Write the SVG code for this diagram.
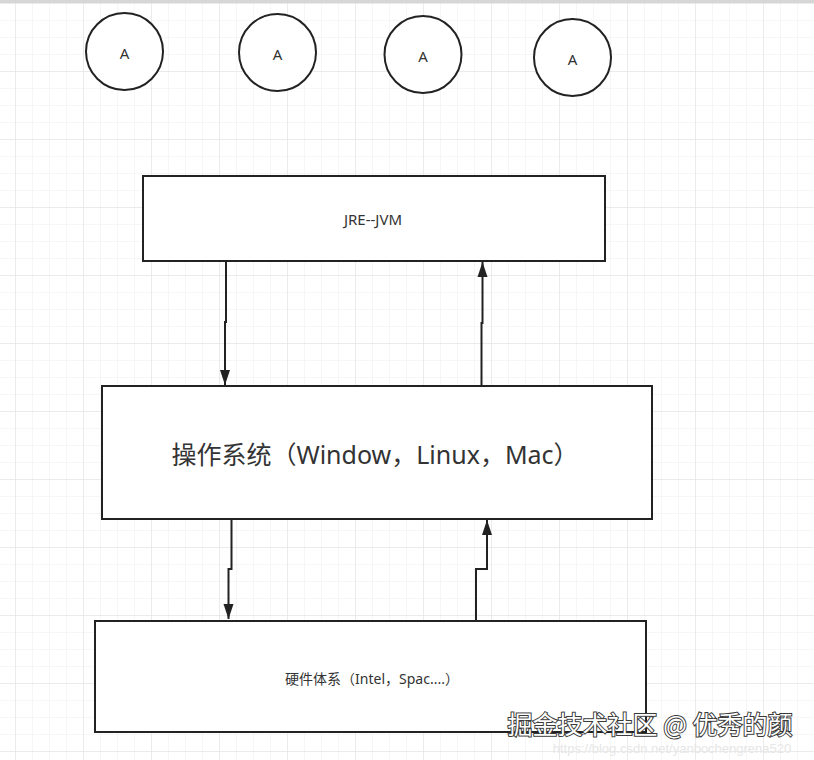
<svg xmlns="http://www.w3.org/2000/svg" width="814" height="760" viewBox="0 0 814 760">
  <defs>
    <pattern id="minor" x="15" y="3" width="17" height="17" patternUnits="userSpaceOnUse">
      <path d="M0,0 V17 M0,0 H17" fill="none" stroke="#eeeeee" stroke-width="1"/>
    </pattern>
    <pattern id="major" x="15" y="3" width="68" height="68" patternUnits="userSpaceOnUse">
      <path d="M0,0 V68 M0,0 H68" fill="none" stroke="#e0e0e0" stroke-width="1"/>
    </pattern>
    <marker id="arrow" markerUnits="userSpaceOnUse" markerWidth="16" markerHeight="12" viewBox="0 0 16 12" refX="15" refY="6" orient="auto">
      <path d="M0,1 L15,6 L0,11 Z" fill="#222"/>
    </marker>
    <style>
      .node { fill: #fff; stroke: #222; stroke-width: 2; }
      .lbl { font-family: "Noto Sans", "Noto Sans CJK SC", sans-serif; fill: #333; text-anchor: middle; dominant-baseline: central; }
      .edge { fill: none; stroke: #222; stroke-width: 2; marker-end: url(#arrow); }
    </style>
  </defs>

  <rect width="814" height="760" fill="#fff"/>
  <rect width="814" height="760" fill="url(#minor)"/>
  <rect width="814" height="760" fill="url(#major)"/>
  <rect x="0" y="0" width="814" height="3" fill="#d6d6d6"/>

  <g id="circle1">
    <circle class="node" cx="124.5" cy="51.5" r="38.5"/>
    <text class="lbl" x="124.5" y="52.5" font-size="15">A</text>
  </g>
  <g id="circle2">
    <circle class="node" cx="277.5" cy="52.5" r="38.5"/>
    <text class="lbl" x="277.5" y="53.5" font-size="15">A</text>
  </g>
  <g id="circle3">
    <circle class="node" cx="423" cy="54.5" r="38.5"/>
    <text class="lbl" x="423" y="55.5" font-size="15">A</text>
  </g>
  <g id="circle4">
    <circle class="node" cx="572.5" cy="57.5" r="38.5"/>
    <text class="lbl" x="572.5" y="58.5" font-size="15">A</text>
  </g>

  <g id="jre">
    <rect class="node" x="143" y="176" width="462" height="85"/>
    <text class="lbl" x="373" y="219" font-size="15">JRE--JVM</text>
  </g>

  <g id="os">
    <rect class="node" x="102" y="386" width="550" height="133"/>
    <text class="lbl" x="375" y="454" font-size="25" font-family="Noto Sans CJK SC, sans-serif">操作系统（Window，Linux，Mac）</text>
  </g>

  <g id="hardware">
    <rect class="node" x="95" y="621" width="551" height="111"/>
    <text class="lbl" x="372" y="678" font-size="14" font-family="Noto Sans CJK SC, sans-serif">硬件体系（Intel，Spac....）</text>
  </g>

  <g id="connectors">
    <path class="edge" d="M226,261 V322 H225 V385"/>
    <path class="edge" d="M481.5,386 V323 H482.5 V262"/>
    <path class="edge" d="M231.5,519 V569 H228.5 V619"/>
    <path class="edge" d="M476,621 V569 H487 V520"/>
  </g>

  <g id="watermark">
    <text x="672" y="748" font-size="13" font-family="Liberation Sans, sans-serif" fill="#e6e6e6" text-anchor="middle" dominant-baseline="central">https://blog.csdn.net/yanbochengrena520</text>
    <text x="650" y="723" font-size="25" font-family="Noto Sans CJK SC, sans-serif" fill="#fff" stroke="#3a3a3a" stroke-width="2" paint-order="stroke" text-anchor="middle" dominant-baseline="central">掘金技术社区 @ 优秀的颜</text>
  </g>
</svg>
